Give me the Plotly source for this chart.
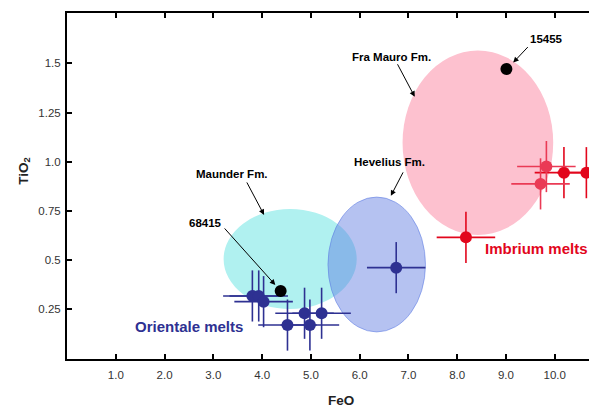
import plotly.graph_objects as go

# ---------------- data ----------------
x_ticks = [1, 2, 3, 4, 5, 6, 7, 8, 9, 10]
x_tick_labels = ["1.0", "2.0", "3.0", "4.0", "5.0", "6.0", "7.0", "8.0", "9.0", "10.0"]
y_ticks = [0.25, 0.5, 0.75, 1.0, 1.25, 1.5]
y_tick_labels = ["0.25", "0.5", "0.75", "1.0", "1.25", "1.5"]

orientale_feo = [3.80, 3.93, 4.03, 4.52, 4.87, 4.98, 5.22, 6.75]
orientale_tio2 = [0.317, 0.317, 0.288, 0.169, 0.229, 0.169, 0.229, 0.461]
orientale_feo_err = [0.6] * 8
orientale_tio2_err = [0.13] * 8

imbrium_feo = [8.18, 9.83, 9.71, 10.19, 10.65]
imbrium_tio2 = [0.615, 0.975, 0.887, 0.944, 0.944]
imbrium_feo_err = [0.6] * 5
imbrium_tio2_err = [0.13] * 5

sample_names = ["68415", "15455"]
sample_feo = [4.38, 9.01]
sample_tio2 = [0.342, 1.471]

# formation fields: (FeO min, FeO max, TiO2 min, TiO2 max)
maunder_field = [3.21, 5.94, 0.251, 0.759]
hevelius_field = [5.35, 7.35, 0.134, 0.820]
fra_mauro_field = [6.88, 9.97, 0.627, 1.565]

# ---------------- styling ----------------
FONT = "Arial, Liberation Sans, Helvetica, sans-serif"
ORI_COL = "#2e3192"
IMB_COL = "#e2061c"
IMB_COL_LIGHT = "#ea3a55"

fig = go.Figure()

# formation ellipses
fig.add_shape(type="circle", xref="x", yref="y", layer="below",
              x0=maunder_field[0], x1=maunder_field[1], y0=maunder_field[2], y1=maunder_field[3],
              fillcolor="#b0f1f0", line=dict(width=0))
fig.add_shape(type="circle", xref="x", yref="y", layer="below",
              x0=hevelius_field[0], x1=hevelius_field[1], y0=hevelius_field[2], y1=hevelius_field[3],
              fillcolor="rgba(90,120,225,0.45)", line=dict(width=1, color="rgba(90,120,225,0.55)"))
fig.add_shape(type="circle", xref="x", yref="y", layer="below",
              x0=fra_mauro_field[0], x1=fra_mauro_field[1], y0=fra_mauro_field[2], y1=fra_mauro_field[3],
              fillcolor="#fdc1cf", line=dict(width=0))

# Orientale melts
fig.add_trace(go.Scatter(
    x=orientale_feo, y=orientale_tio2, mode="markers",
    marker=dict(size=12, color=ORI_COL),
    error_x=dict(type="data", array=orientale_feo_err, color=ORI_COL, thickness=1.6, width=0),
    error_y=dict(type="data", array=orientale_tio2_err, color=ORI_COL, thickness=1.6, width=0),
    showlegend=False, name="Orientale melts"))

# Imbrium melts: split by whether they fall within the Fra Mauro field (tinted)
cx = (fra_mauro_field[0] + fra_mauro_field[1]) / 2
rx = (fra_mauro_field[1] - fra_mauro_field[0]) / 2
cy = (fra_mauro_field[2] + fra_mauro_field[3]) / 2
ry = (fra_mauro_field[3] - fra_mauro_field[2]) / 2
inside = [((xv - cx) / rx) ** 2 + ((yv - cy) / ry) ** 2 < 1 for xv, yv in zip(imbrium_feo, imbrium_tio2)]
for flag, col in [(False, IMB_COL), (True, IMB_COL_LIGHT)]:
    idx = [i for i, f in enumerate(inside) if f == flag]
    fig.add_trace(go.Scatter(
        x=[imbrium_feo[i] for i in idx], y=[imbrium_tio2[i] for i in idx], mode="markers",
        marker=dict(size=12, color=col),
        error_x=dict(type="data", array=[imbrium_feo_err[i] for i in idx], color=col, thickness=1.6, width=0),
        error_y=dict(type="data", array=[imbrium_tio2_err[i] for i in idx], color=col, thickness=1.6, width=0),
        showlegend=False, name="Imbrium melts"))

# samples
fig.add_trace(go.Scatter(
    x=sample_feo, y=sample_tio2, mode="markers",
    marker=dict(size=12, color="black"), text=sample_names,
    showlegend=False, name="samples"))

# ---------------- annotations ----------------
lab_font = dict(family=FONT, size=11.5, color="black")
labels = [
    ("15455", 9.84, 1.624),
    ("Fra Mauro Fm.", 6.65, 1.534),
    ("Maunder Fm.", 3.38, 0.937),
    ("68415", 2.84, 0.690),
    ("Hevelius Fm.", 6.61, 0.998),
]
for txt, xx, yy in labels:
    fig.add_annotation(x=xx, y=yy, xref="x", yref="y", text="<b>%s</b>" % txt,
                       xanchor="center", yanchor="middle", showarrow=False, font=lab_font)

arrows = [  # head (x, y) in data, tail offset in px
    (9.15, 1.504, 16, -17),
    (7.13, 1.330, -18, -34),
    (4.04, 0.729, -18, -34),
    (4.27, 0.373, -52, -58),
    (6.64, 0.826, 13, -25),
]
for hx, hy, ax, ay in arrows:
    fig.add_annotation(x=hx, y=hy, xref="x", yref="y", ax=ax, ay=ay, text="",
                       showarrow=True, arrowhead=2, arrowsize=1.1, arrowwidth=1,
                       arrowcolor="black", font=dict(size=1))

fig.add_annotation(x=2.50, y=0.164, xref="x", yref="y", text="<b>Orientale melts</b>",
                   xanchor="center", yanchor="middle",
                   showarrow=False, font=dict(family=FONT, size=15, color=ORI_COL))
fig.add_annotation(x=9.63, y=0.560, xref="x", yref="y", text="<b>Imbrium melts</b>",
                   xanchor="center", yanchor="middle",
                   showarrow=False, font=dict(family=FONT, size=15, color=IMB_COL))

# axis titles
fig.add_annotation(x=0.519, y=-0.1185, xref="paper", yref="paper", text="<b>FeO</b>",
                   xanchor="center", yanchor="middle",
                   showarrow=False, font=dict(family=FONT, size=13.5, color="#222"))
fig.add_annotation(x=-0.082, y=0.543, xref="paper", yref="paper", text="<b>TiO<sub>2</sub></b>",
                   xanchor="center", yanchor="middle",
                   textangle=-90, showarrow=False, font=dict(family=FONT, size=13.5, color="#222"))

axis_common = dict(showgrid=False, zeroline=False, showline=True, linecolor="black", linewidth=2,
                   mirror="ticks", ticks="inside", ticklen=5, tickwidth=1.5, tickcolor="black",
                   tickfont=dict(family=FONT, size=11.5, color="#333"))

# the page body has an 8px default margin; the figure is sized/offset to compensate
fig.update_layout(
    width=589, height=399,
    margin=dict(l=59, r=0, t=5, b=48),
    paper_bgcolor="white", plot_bgcolor="white",
    xaxis=dict(range=[-0.002, 10.827], tickvals=x_ticks, ticktext=x_tick_labels,
               ticklabelstandoff=4, **axis_common),
    yaxis=dict(range=[-0.0036, 1.756], tickvals=y_ticks, ticktext=y_tick_labels,
               ticklabelstandoff=2, **axis_common),
)

fig.write_html("out.html")
